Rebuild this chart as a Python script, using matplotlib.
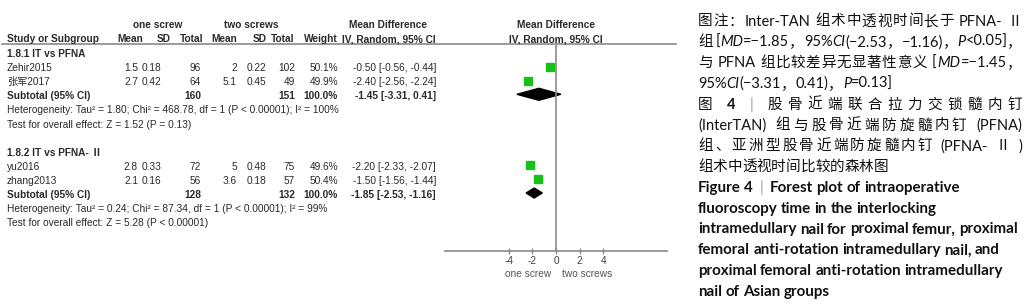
import matplotlib
matplotlib.use("Agg")
import matplotlib.pyplot as plt
from matplotlib.patches import Polygon

# ---- data ----
group_titles = ["1.8.1 IT vs PFNA", "1.8.2 IT vs PFNA- Ⅱ"]
studies = ["Zehir2015", "张军2017", "yu2016", "zhang2013"]
study_group = [0, 0, 1, 1]
one_mean = [1.5, 2.7, 2.8, 2.1]
one_sd = [0.18, 0.42, 0.33, 0.16]
one_n = [96, 64, 72, 56]
two_mean = [2, 5.1, 5, 3.6]
two_sd = [0.22, 0.45, 0.48, 0.18]
two_n = [102, 49, 75, 57]
weight = [50.1, 49.9, 49.6, 50.4]
md = [-0.50, -2.40, -2.20, -1.50]
md_lo = [-0.56, -2.56, -2.33, -1.56]
md_hi = [-0.44, -2.24, -2.07, -1.44]

sub_one_n = [160, 128]
sub_two_n = [151, 132]
sub_md = [-1.45, -1.85]
sub_lo = [-3.31, -2.53]
sub_hi = [0.41, -1.16]
heterogeneity = [
    "Heterogeneity: Tau² = 1.80; Chi² = 468.78, df = 1 (P < 0.00001); I² = 100%",
    "Heterogeneity: Tau² = 0.24; Chi² = 87.34, df = 1 (P < 0.00001); I² = 99%",
]
overall = [
    "Test for overall effect: Z = 1.52 (P = 0.13)",
    "Test for overall effect: Z = 5.28 (P < 0.00001)",
]
x_ticks = [-4, -2, 0, 2, 4]
favours = ["one screw", "two screws"]

# caption: list of lines, each a list of (text, style); n normal, i italic, b bold, g grey bar
caption = [
    [("图注：Inter-TAN 组术中透视时间长于 PFNA- Ⅱ", "n")],
    [("组 [", "n"), ("MD", "i"), ("=−1.85，95%", "n"), ("CI", "i"),
     ("(−2.53，−1.16)，", "n"), ("P", "i"), ("<0.05]，", "n")],
    [("与 PFNA 组比较差异无显著性意义 [", "n"), ("MD", "i"), ("=−1.45，", "n")],
    [("95%", "n"), ("CI", "i"), ("(−3.31，0.41)，", "n"), ("P", "i"), ("=0.13]", "n")],
    [("图 ", "n"), ("4", "b"), (" ", "n"), ("|", "g"), (" 股骨近端联合拉力交锁髓内钉", "n")],
    [("(InterTAN) 组与股骨近端防旋髓内钉 (PFNA)", "n")],
    [("组、亚洲型股骨近端防旋髓内钉 (PFNA- Ⅱ )", "n")],
    [("组术中透视时间比较的森林图", "n")],
    [("Figure 4  ", "b"), ("|", "g"), ("  Forest plot of intraoperative", "b")],
    [("fluoroscopy time in the interlocking", "b")],
    [("intramedullary nail for proximal femur, proximal", "b")],
    [("femoral anti-rotation intramedullary nail, and", "b")],
    [("proximal femoral anti-rotation intramedullary", "b")],
    [("nail of Asian groups", "b")],
]
justified = [True, True, True, False, True, True, True, False,
             False, False, False, False, False, False]

# ---- layout (pixels, figure is 1032 x 307) ----
W, H = 1032, 307
TXT = "#2a2a2a"
GREY = "#8a8a8a"
TFONT = ["Liberation Sans", "Noto Sans CJK SC"]
CFONT = ["Lato", "Noto Sans CJK SC"]
FS = 7.3

fig = plt.figure(figsize=(W / 100, H / 100), dpi=100)
ax0 = fig.add_axes([0, 0, 1, 1])
ax0.set_xlim(0, W)
ax0.set_ylim(H, 0)
ax0.axis("off")


def txt(x, y, s, ha="left", bold=False, **kw):
    ax0.text(x, y, s, ha=ha, va="center", fontsize=FS, family=TFONT,
             fontweight="bold" if bold else "normal", color=TXT, **kw)


# column headers
col_head = ["Mean", "SD", "Total", "Mean", "SD", "Total", "Weight"]
head_x = [143, 171, 203, 237, 267, 294, 338]
val_x = [138, 161, 201, 237, 266, 295, 338]
txt(158, 25, "one screw", ha="center", bold=True)
txt(251, 25, "two screws", ha="center", bold=True)
txt(388, 25, "Mean Difference", ha="center", bold=True)
txt(556, 25, "Mean Difference", ha="center", bold=True)
txt(7, 39, "Study or Subgroup", bold=True)
for h, x in zip(col_head, head_x):
    txt(x, 39, h, ha="right", bold=True)
txt(436, 39, "IV, Random, 95% CI", ha="right", bold=True)
txt(556, 39, "IV, Random, 95% CI", ha="center", bold=True)
ax0.plot([2, 676], [44, 44], color=GREY, lw=1.2)

# row positions
row0, step = 54, 14.1
row_y = {}
r = 0
for g in range(2):
    row_y[("title", g)] = row0 + r * step; r += 1
    for i, sg in enumerate(study_group):
        if sg == g:
            row_y[("study", i)] = row0 + r * step; r += 1
    row_y[("sub", g)] = row0 + r * step; r += 1
    row_y[("het", g)] = row0 + r * step; r += 1
    row_y[("test", g)] = row0 + r * step; r += 2

# forest axes: x in mean-difference units, y in pixel rows
px_left, px_right, px_top, px_bot = 445, 667, 44, 251
axf = fig.add_axes([px_left / W, 1 - px_bot / H, (px_right - px_left) / W,
                    (px_bot - px_top) / H])
axf.set_xlim(-9.4, 9.4)
axf.set_ylim(px_bot, px_top)
axf.patch.set_alpha(0)
for s in ["top", "left", "right"]:
    axf.spines[s].set_visible(False)
axf.spines["bottom"].set_color(GREY)
axf.spines["bottom"].set_linewidth(1.2)
axf.set_yticks([])
axf.set_xticks(x_ticks)
axf.set_xticklabels([str(t) for t in x_ticks])
axf.tick_params(axis="x", direction="inout", length=5, width=1, color=GREY,
                pad=1, labelsize=FS, labelcolor="#444444")
for lab in axf.get_xticklabels():
    lab.set_family(TFONT)
axf.axvline(0, color=GREY, lw=1.2)
axf.text(-2.4, 274, favours[0], ha="center", va="center", fontsize=FS,
         family=TFONT, color="#555555", clip_on=False)
axf.text(2.6, 274, favours[1], ha="center", va="center", fontsize=FS,
         family=TFONT, color="#555555", clip_on=False)

for g in range(2):
    txt(7, row_y[("title", g)], group_titles[g], bold=True)
    for i, sg in enumerate(study_group):
        if sg != g:
            continue
        y = row_y[("study", i)]
        txt(7, y, studies[i])
        vals = [one_mean[i], one_sd[i], one_n[i], two_mean[i], two_sd[i],
                two_n[i], f"{weight[i]:.1f}%"]
        for v, x in zip(vals, val_x):
            txt(x, y, str(v), ha="right")
        txt(436, y, f"{md[i]:.2f} [{md_lo[i]:.2f}, {md_hi[i]:.2f}]", ha="right")
        # study marker with its CI
        ms = 5.8 * (weight[i] / 50.0) ** 0.5
        axf.plot([md_lo[i], md_hi[i]], [y - 1.5, y - 1.5], color="black", lw=0.8)
        axf.plot(md[i], y - 1.5, "s", ms=ms, color="#17c117", mec="#17c117")
    y = row_y[("sub", g)]
    txt(7, y, "Subtotal (95% CI)", bold=True)
    txt(val_x[2], y, str(sub_one_n[g]), ha="right", bold=True)
    txt(val_x[5], y, str(sub_two_n[g]), ha="right", bold=True)
    txt(val_x[6], y, "100.0%", ha="right", bold=True)
    txt(436, y, f"{sub_md[g]:.2f} [{sub_lo[g]:.2f}, {sub_hi[g]:.2f}]",
        ha="right", bold=True)
    hh = 6 if g == 0 else 5
    yc = y - 2
    dia = Polygon([(sub_lo[g], yc), (sub_md[g], yc - hh), (sub_hi[g], yc),
                   (sub_md[g], yc + hh)], closed=True, color="black")
    axf.add_patch(dia)
    txt(7, row_y[("het", g)], heterogeneity[g])
    txt(7, row_y[("test", g)], overall[g])

# ---- caption on the right, drawn token by token so it can be justified ----
renderer = fig.canvas.get_renderer()
CAP_FS = 10.5
EN_FS = 10.9
cap_x0, cap_x1 = 698, 1022
base0, lstep = 25.5, 20.8


def is_cjk(ch):
    return ord(ch) >= 0x2E80


def tokens_of(runs):
    out = []
    for text, style in runs:
        buf = ""
        for ch in text:
            if ch == " " or is_cjk(ch):
                if buf:
                    out.append((buf, style)); buf = ""
                out.append((None if ch == " " else ch, style))
            else:
                buf += ch
        if buf:
            out.append((buf, style))
    return out


for li, runs in enumerate(caption):
    yb = base0 + li * lstep
    english = li >= 8
    fs = EN_FS if english else CAP_FS
    space_w = (0.22 if english else 0.24) * fs * 100 / 72
    items = []
    for tok, style in tokens_of(runs):
        if tok is None:
            items.append((None, space_w))
            continue
        kw = dict(fontsize=fs, family=CFONT, color="#111111", va="baseline")
        if style == "b":
            kw["fontweight"] = "bold"
        elif style == "i":
            kw["fontstyle"] = "italic"
        elif style == "g":
            kw["color"] = "#9a9a9a"
        t = ax0.text(0, yb, tok, **kw)
        items.append((t, t.get_window_extent(renderer).width))
    natural = sum(w for _, w in items)
    gap = 0
    if justified[li] and len(items) > 1:
        gap = (cap_x1 - cap_x0 - natural) / (len(items) - 1)
    x = cap_x0
    for t, w in items:
        if t is not None:
            t.set_x(x)
        x += w + gap

fig.savefig("out.png", dpi=100)
